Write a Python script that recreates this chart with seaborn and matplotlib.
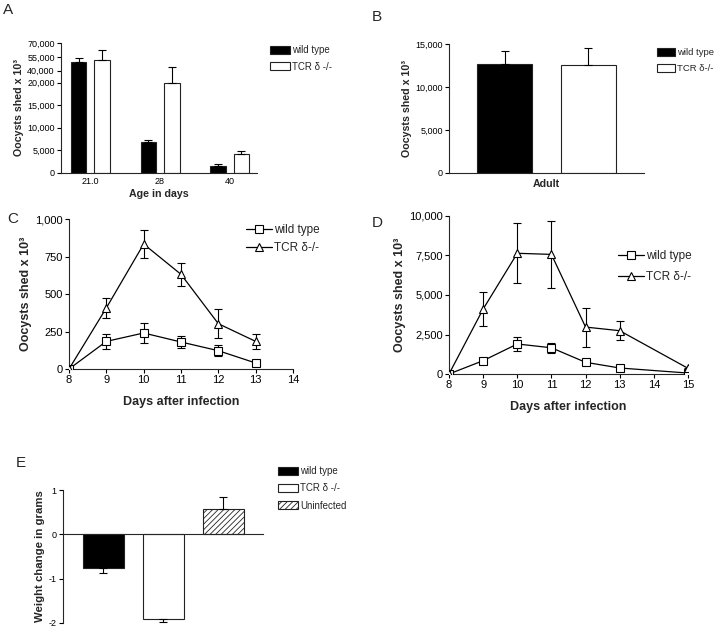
import numpy as np
import pandas as pd
import matplotlib
matplotlib.use("Agg")
import matplotlib.pyplot as plt
from matplotlib.patches import Patch
from matplotlib.lines import Line2D
import seaborn as sns

# ---- data ----
geno = ["wild type", "TCR δ -/-"]

# A: oocysts by age
ages = ["21.0", "28", "40"]
a_wt = [49500, 6750, 1650]
a_wt_err = [4800, 500, 420]
a_ko = [51700, 19900, 4300]
a_ko_err = [11000, 24500, 650]

# B: adult
b_mean = [12680, 12600]
b_err = [1540, 1900]

# C: days after infection
c_days = [8, 9, 10, 11, 12, 13]
c_wt = [0, 184, 240, 180, 122, 40]
c_wt_err = [0, 49, 67, 40, 38, 8]
c_ko = [0, 407, 833, 631, 302, 184]
c_ko_err = [0, 69, 96, 76, 96, 49]

# D: days after infection
d_days = [8, 9, 10, 11, 12, 13, 15]
d_wt = [0, 844, 1900, 1660, 740, 380, 60]
d_wt_err = [0, 60, 460, 330, 60, 40, 20]
d_ko = [0, 4110, 7640, 7570, 2970, 2740, 360]
d_ko_err = [0, 1100, 1900, 2130, 1230, 610, 40]

# E: weight change
e_groups = ["wild type", "TCR δ -/-", "Uninfected"]
e_mean = [-0.75, -1.92, 0.58]
e_err = [0.12, 0.06, 0.27]

sns.set_style("ticks")
plt.rcParams["font.family"] = ["Liberation Sans", "DejaVu Sans"]
plt.rcParams["axes.unicode_minus"] = False
plt.rcParams["axes.linewidth"] = 0.8
plt.rcParams["xtick.major.width"] = 0.8
plt.rcParams["ytick.major.width"] = 0.8
plt.rcParams["xtick.major.size"] = 3
plt.rcParams["ytick.major.size"] = 3
plt.rcParams["xtick.labelsize"] = 6.5
plt.rcParams["ytick.labelsize"] = 6.5
plt.rcParams["hatch.linewidth"] = 0.6

W, H = 720, 628
fig = plt.figure(figsize=(W / 100, H / 100), dpi=100)


def px_axes(l, t, r, b):
    return fig.add_axes([l / W, 1 - b / H, (r - l) / W, (b - t) / H])


def tidy(ax):
    sns.despine(ax=ax)
    ax.tick_params(direction="out", pad=1.5, colors="black")


LBL = dict(fontsize=7.7, fontweight="bold")
LBL_BIG = dict(fontsize=9, fontweight="bold")
YLAB = "Oocysts shed x 10³"
EDGE = "#222222"


def bar_errs(ax, errs_by_container):
    for cont, errs in zip(ax.containers, errs_by_container):
        for rect, e in zip(cont, errs):
            x = rect.get_x() + rect.get_width() / 2
            val = rect.get_height()
            yerr = [[0], [e]] if val >= 0 else [[e], [0]]
            ax.errorbar(x, val, yerr=yerr, fmt="none", ecolor="black",
                        elinewidth=0.8, capsize=3, capthick=0.8, zorder=1)


def patch_legend(ax, labels, x, y, hatches=None, spacing=0.7, hl=2.1, fs=7):
    fills = ["black"] + ["white"] * (len(labels) - 1)
    hatches = hatches or [None] * len(labels)
    hs = [Patch(fc=f, ec=EDGE, lw=0.8, hatch=h) for f, h in zip(fills, hatches)]
    ax.legend(handles=hs, labels=labels, loc="upper left",
              bbox_to_anchor=(x / W, 1 - y / H), bbox_transform=fig.transFigure,
              frameon=False, fontsize=fs, handlelength=hl, handleheight=0.9,
              handletextpad=0.2, labelspacing=spacing, borderaxespad=0, borderpad=0)


# ---------- A ----------
axA = px_axes(61, 43, 257, 173)
seg_in = [-1e6, 0, 20000, 40000, 70000, 1e6]
seg_out = [-1e6, 0, 20000, 22593, 28741, 28741 + 0.205 * (1e6 - 70000)]
fwd = lambda y: np.interp(y, seg_in, seg_out)
inv = lambda y: np.interp(y, seg_out, seg_in)
axA.set_yscale("function", functions=(fwd, inv))
dfA = pd.DataFrame({
    "age": ages * 2,
    "val": a_wt + a_ko,
    "geno": [geno[0]] * 3 + [geno[1]] * 3,
})
sns.barplot(data=dfA, x="age", y="val", hue="geno", order=ages,
            palette=["black", "white"], edgecolor=EDGE, linewidth=0.8,
            width=0.67, gap=0.33, legend=False, ax=axA)
bar_errs(axA, [a_wt_err, a_ko_err])
axA.set_ylim(0, 70000)
axA.set_xlim(-0.42, 2.39)
a_ticks = [0, 5000, 10000, 15000, 20000, 40000, 55000, 70000]
axA.set_yticks(a_ticks)
axA.set_yticklabels([f"{v:,}" for v in a_ticks])
axA.set_xlabel("Age in days", labelpad=2, **LBL)
axA.set_ylabel(YLAB, labelpad=2, **LBL)
tidy(axA)
axA.tick_params(axis="x", length=0, pad=3)
patch_legend(axA, ["wild type", "TCR δ -/-"], 270, 45)

# ---------- B ----------
axB = px_axes(449, 44, 644, 173)
dfB = pd.DataFrame({"grp": ["Adult"] * 2, "val": b_mean, "geno": geno})
sns.barplot(data=dfB, x="grp", y="val", hue="geno", palette=["black", "white"],
            edgecolor=EDGE, linewidth=0.8, width=0.8, gap=0.336,
            legend=False, ax=axB)
bar_errs(axB, [[b_err[0]], [b_err[1]]])
axB.set_ylim(0, 15000)
axB.set_xlim(-0.467, 0.467)
b_ticks = [0, 5000, 10000, 15000]
axB.set_yticks(b_ticks)
axB.set_yticklabels([f"{v:,}" for v in b_ticks])
axB.set_xticks([])
axB.set_xlabel("Adult", labelpad=4, **LBL)
axB.set_ylabel(YLAB, labelpad=2, **LBL)
tidy(axB)
patch_legend(axB, ["wild type", "TCR δ-/-"], 657, 48, spacing=0.75, hl=1.9, fs=6.8)


# ---------- C and D ----------
def line_panel(ax, days, wt, wt_err, ko, ko_err):
    df = pd.DataFrame({
        "day": days * 2,
        "val": wt + ko,
        "geno": [geno[0]] * len(days) + [geno[1]] * len(days),
    })
    for (y, e) in [(wt, wt_err), (ko, ko_err)]:
        ax.errorbar(days, y, yerr=e, fmt="none", ecolor="black",
                    elinewidth=0.8, capsize=3, capthick=0.8, zorder=1)
    sns.lineplot(data=df, x="day", y="val", style="geno", color="black",
                 markers={geno[0]: "s", geno[1]: "^"}, dashes=False,
                 linewidth=0.9, markersize=5.5, mfc="white", mec="black", mew=0.8,
                 legend=False, ax=ax, zorder=3)
    ax.set_xlabel("Days after infection", labelpad=8, **LBL_BIG)
    ax.set_ylabel(YLAB, labelpad=2, **LBL_BIG)
    tidy(ax)
    ax.tick_params(labelsize=8)


def line_legend(ax, x, y, labels, spacing):
    hs = [Line2D([], [], color="black", lw=0.9, marker=m, ms=5.5, mfc="white",
                 mec="black", mew=0.8) for m in ["s", "^"]]
    ax.legend(handles=hs, labels=labels, loc="upper left",
              bbox_to_anchor=(x / W, 1 - y / H), bbox_transform=fig.transFigure,
              frameon=False, fontsize=8.5, handlelength=2.2, handletextpad=0.2,
              labelspacing=spacing, borderaxespad=0, borderpad=0)


axC = px_axes(69, 219, 293, 369)
line_panel(axC, c_days, c_wt, c_wt_err, c_ko, c_ko_err)
axC.set_xlim(8, 14)
axC.set_ylim(0, 1000)
axC.set_xticks(range(8, 15))
c_ticks = [0, 250, 500, 750, 1000]
axC.set_yticks(c_ticks)
axC.set_yticklabels([f"{v:,}" for v in c_ticks])
line_legend(axC, 246, 224, ["wild type", "TCR δ-/-"], 0.5)

axD = px_axes(449, 216, 688, 374)
line_panel(axD, d_days, d_wt, d_wt_err, d_ko, d_ko_err)
axD.set_xlim(8, 15)
axD.set_ylim(0, 10000)
axD.set_xticks(range(8, 16))
d_ticks = [0, 2500, 5000, 7500, 10000]
axD.set_yticks(d_ticks)
axD.set_yticklabels([f"{v:,}" for v in d_ticks])
line_legend(axD, 618, 250, ["wild type", "TCR δ-/-"], 0.75)

# ---------- E ----------
axE = px_axes(63, 490, 263, 623)
dfE = pd.DataFrame({"grp": e_groups, "val": e_mean})
sns.barplot(data=dfE, x="grp", y="val", hue="grp", order=e_groups,
            palette=["black", "white", "white"], edgecolor=EDGE, linewidth=0.8,
            width=0.683, legend=False, ax=axE)
axE.containers[2][0].set_hatch("//////")
bar_errs(axE, [[e] for e in e_err])
axE.set_ylim(-2, 1)
axE.set_xlim(-0.672, 2.66)
axE.set_yticks([-2, -1, 0, 1])
axE.set_xticks([])
axE.set_xlabel("")
axE.set_ylabel("Weight change in grams", labelpad=3, fontsize=8.2, fontweight="bold")
tidy(axE)
axE.spines["bottom"].set_position(("data", 0))
patch_legend(axE, e_groups, 278, 466, hatches=[None, None, "//////"], spacing=0.75)

# panel letters
for s, x, y in [("A", 3, 3), ("B", 372, 10), ("C", 7, 212), ("D", 372, 216), ("E", 16, 456)]:
    fig.text(x / W, 1 - y / H, s, fontsize=11, va="top", ha="left")

fig.savefig("out.png", dpi=100, facecolor="white")
